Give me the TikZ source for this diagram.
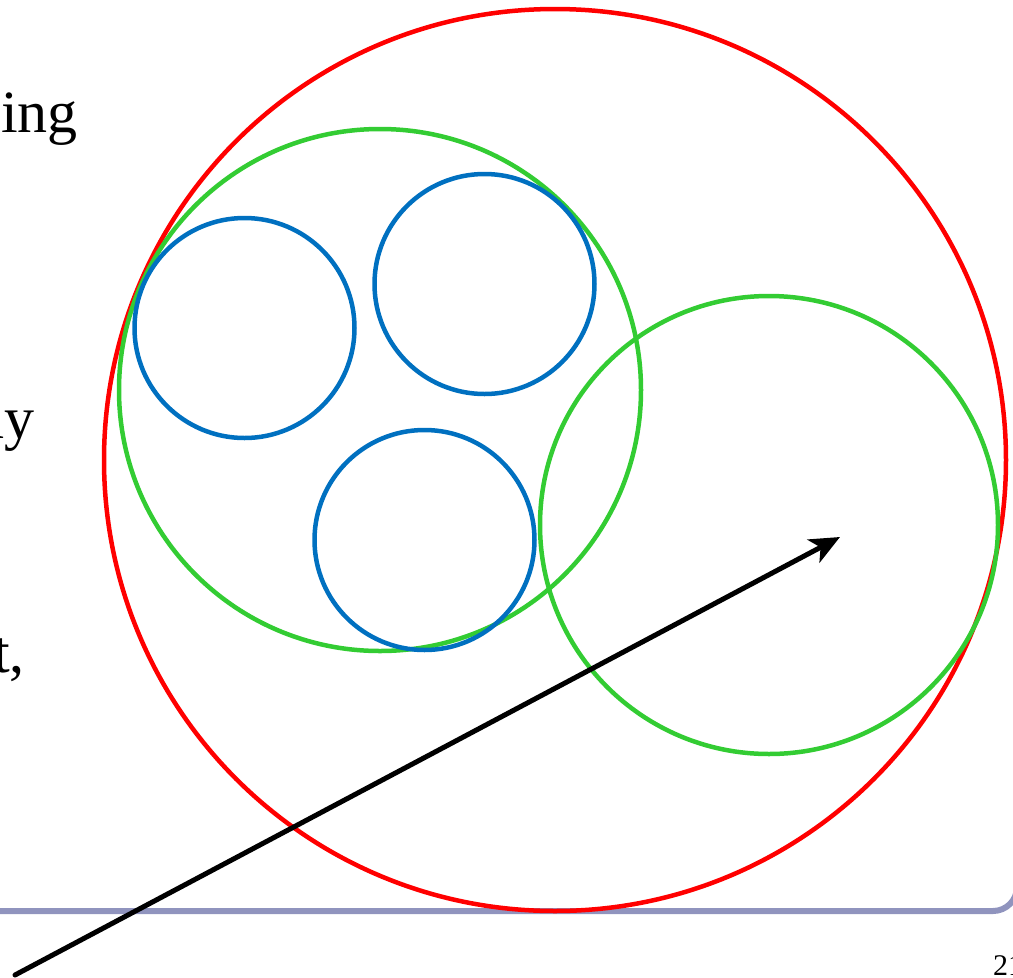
\documentclass[tikz,border=0pt]{standalone}
\usepackage{fontspec}
\setmainfont{Liberation Serif}
\usetikzlibrary{arrows.meta}
\definecolor{cred}{HTML}{FF0000}
\definecolor{cgreen}{HTML}{33CC33}
\definecolor{cblue}{HTML}{0070C0}
\definecolor{cbar}{HTML}{9094BE}
\tikzset{
  ring/.style={circle, draw, line width=4.5pt, inner sep=0pt},
  bigtext/.style={font=\fontsize{60}{72}\selectfont, inner sep=0pt},
  pagenum/.style={font=\fontsize{30}{36}\selectfont, inner sep=0pt, anchor=base west},
  vec/.style={line width=5pt, -{Stealth[length=30pt,width=26pt,inset=8pt]}, line cap=round},
  bar/.style={line width=6pt, draw=cbar}
}
\begin{document}
\begin{tikzpicture}[x=1pt,y=-1pt]
\useasboundingbox (0,0) rectangle (1013,978);
\clip (0,0) rectangle (1013,978);
% texts
\node[bigtext, anchor=base east] (t1) at (78,132) {ing};
\node[bigtext, anchor=base east] (t2) at (35,438) {ny};
\node[bigtext, anchor=base east] (t3) at (25,672) {t,};
\node[pagenum] (pn) at (993,975) {21};
% bar
\draw[bar] (-10,911) -- (993,911) arc[start angle=90, end angle=0, radius=24] -- (1017,820);
% circles
\node[ring, draw=cred, minimum size=902pt] (red) at (555,460) {};
\node[ring, draw=cgreen, minimum size=522pt] (g1) at (380,390) {};
\node[ring, draw=cgreen, minimum size=458pt] (g2) at (769,525) {};
\node[ring, draw=cblue, minimum size=220pt] (b1) at (244.5,328) {};
\node[ring, draw=cblue, minimum size=220pt] (b2) at (484.5,284) {};
\node[ring, draw=cblue, minimum size=220pt] (b3) at (424.5,540) {};
% arrow
\coordinate (as) at (15,975);
\coordinate (ae) at (840,537);
\draw[vec] (as) -- (ae);
\end{tikzpicture}
\end{document}
